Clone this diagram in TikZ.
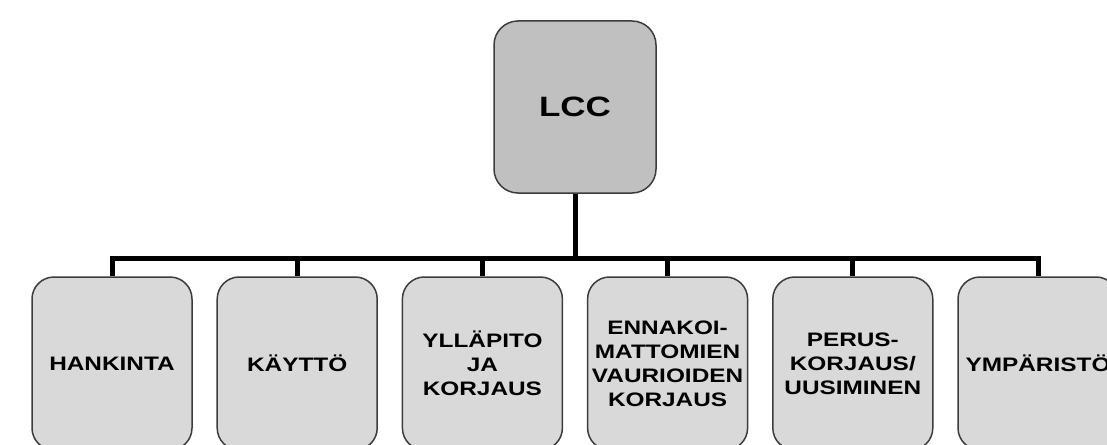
\documentclass[tikz,border=0pt]{standalone}
\usepackage{fontspec}
\setmainfont{Liberation Sans}[FakeStretch=1.25]
\usetikzlibrary{positioning}
\definecolor{topfill}{RGB}{192, 192, 192}
\definecolor{leaffill}{RGB}{217, 217, 217}
\definecolor{boxline}{RGB}{60, 60, 60}
\tikzset{
    lccbox/.style={draw=boxline, line width=1.5pt, fill=topfill,
        rounded corners=24pt, minimum width=162pt, minimum height=172pt,
        inner sep=0pt, font=\fontsize{28}{32}\selectfont\bfseries},
    costbox/.style={draw=boxline, line width=1.5pt, fill=leaffill,
        rounded corners=22pt, minimum width=160pt, minimum height=173pt,
        inner sep=0pt, align=center,
        font=\fontsize{19.5}{24}\selectfont\bfseries},
    branch/.style={line width=5pt},
}

\begin{document}
\begin{tikzpicture}[x=1pt, y=1pt, node distance=23.7pt]
    \useasboundingbox (0, 0) rectangle (1107, -444);
    \clip (0, 0) rectangle (1107, -444);
    \node[lccbox] (lcc) at (575, -107) {LCC};
    \node[costbox] (hankinta) at (112, -363.5) {HANKINTA};
    \node[costbox, right=of hankinta] (kaytto) {KÄYTTÖ};
    \node[costbox, right=of kaytto] (yllapito) {YLLÄPITO\\JA\\KORJAUS};
    \node[costbox, right=of yllapito] (ennakoim)
        {ENNAKOI-\\MATTOMIEN\\VAURIOIDEN\\KORJAUS};
    \node[costbox, right=of ennakoim] (perusk)
        {PERUS-\\KORJAUS/\\UUSIMINEN};
    \node[costbox, right=of perusk] (ympar) {YMPÄRISTÖ};
    \coordinate (bus) at (575, -258);
    \draw[branch] (lcc) -- (bus);
    \foreach \child in {hankinta, kaytto, yllapito, ennakoim, perusk, ympar}
        \draw[branch] (bus) -| (\child.north);
\end{tikzpicture}
\end{document}
